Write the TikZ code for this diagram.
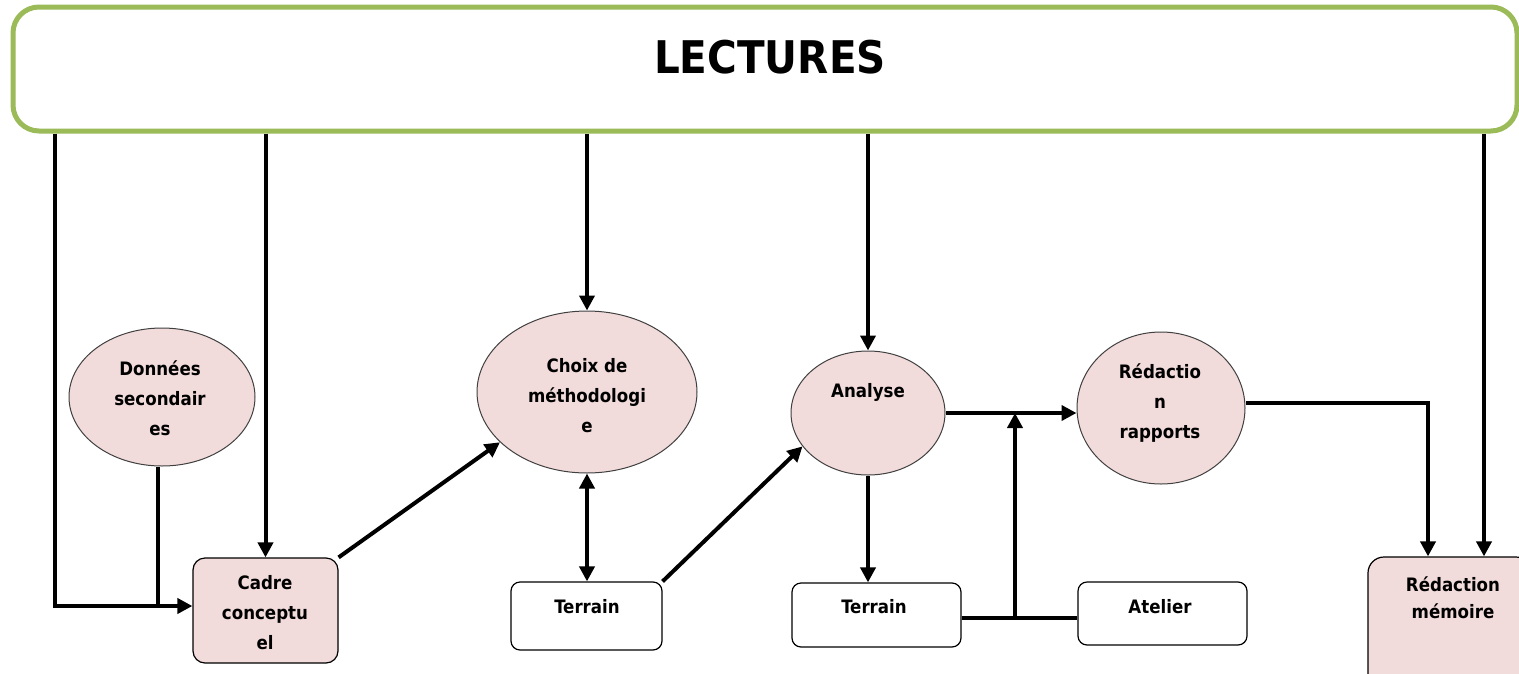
\documentclass[tikz,border=0pt]{standalone}
\usepackage{fontspec}
\usetikzlibrary{shapes.geometric,arrows.meta}
\newfontfamily\tfont{DejaVu Sans Condensed Bold}
\definecolor{lgreen}{HTML}{9BBB59}
\definecolor{lpink}{HTML}{F2DCDB}
\definecolor{edgegray}{HTML}{404040}
\tikzset{
  ell/.style={ellipse,draw=edgegray,line width=1pt,fill=lpink,inner sep=0pt},
  pbox/.style={rectangle,rounded corners=12pt,draw=black,line width=1.2pt,fill=lpink,inner sep=0pt},
  wbox/.style={rectangle,rounded corners=9pt,draw=black,line width=1.2pt,fill=white,inner sep=0pt},
  txt/.style={align=center,inner sep=0pt,font=\tfont\fontsize{18.5}{30}\selectfont},
  conn/.style={line width=4pt,draw=black},
  arr/.style={conn,-{Triangle[length=15pt,width=15pt]}},
  darr/.style={conn,{Triangle[length=15pt,width=15pt]}-{Triangle[length=15pt,width=15pt]}}
}
\begin{document}
\begin{tikzpicture}[x=1pt,y=-1pt]
\useasboundingbox (0,0) rectangle (1519,673);
\clip (0,0) rectangle (1519,673);
\fill[white] (0,0) rectangle (1519,673);
% top box
\node[rectangle,rounded corners=26pt,draw=lgreen,line width=5pt,fill=white,minimum width=1504pt,minimum height=124pt,inner sep=0pt] (L) at (765,69) {};
\node[font=\tfont\fontsize{45}{48}\selectfont,inner sep=0pt] (Lt) at (770,57) {LECTURES};
% shapes
\node[ell,minimum width=186pt,minimum height=138pt] (don) at (162,397) {};
\node[txt] (dont) at (160,398) {Données\\secondair\\es};
\node[pbox,minimum width=145pt,minimum height=105pt] (cad) at (265.5,610.5) {};
\node[txt] (cadt) at (265,613) {Cadre\\conceptu\\el};
\node[ell,minimum width=220pt,minimum height=162pt] (cho) at (587,392) {};
\node[txt] (chot) at (587,396) {Choix de\\méthodologi\\e};
\node[wbox,minimum width=151pt,minimum height=68pt] (ter1) at (586.5,616) {};
\node[txt] (ter1t) at (587,607) {Terrain};
\node[ell,minimum width=154pt,minimum height=124pt] (ana) at (868,413) {};
\node[txt] (anat) at (868,392) {Analyse};
\node[wbox,minimum width=169pt,minimum height=64pt] (ter2) at (876.5,615) {};
\node[txt] (ter2t) at (874,607) {Terrain};
\node[wbox,minimum width=169pt,minimum height=63pt] (ate) at (1162.5,613.5) {};
\node[txt] (atet) at (1160,607) {Atelier};
\node[ell,minimum width=168pt,minimum height=152pt] (rap) at (1161,408) {};
\node[txt] (rapt) at (1160,403) {Rédactio\\n\\rapports};
\node[pbox,rounded corners=16pt,minimum width=164pt,minimum height=140pt] (mem) at (1450,627) {};
\node[txt,font=\tfont\fontsize{18.5}{27}\selectfont] (memt) at (1453,598) {Rédaction\\mémoire};
% helper coordinates
\coordinate (k1) at (55,606);
\coordinate (k2) at (1015,618);
\coordinate (k3) at (1428,403);
\coordinate (k4) at (1484,0);
% connectors
\draw[arr] (k1 |- L.south) -- (k1) -- (k1 -| cad.west);
\draw[conn] (don.south) ++(-4,0) coordinate (dsb) -- (dsb |- k1);
\draw[arr] (cad.north |- L.south) -- (cad.north);
\draw[arr] (cad.north east) -- (cho.210);
\draw[arr] (cho.north |- L.south) -- (cho.north);
\draw[darr] (cho.south) -- (cho.south |- ter1.north);
\draw[arr] (ter1.north east) -- (ana.207);
\draw[arr] (ana.north |- L.south) -- (ana.north);
\draw[arr] (ana.south) -- (ana.south |- ter2.north);
\draw[conn] (ter2.east |- k2) -- (ate.west |- k2);
\draw[arr] (k2) -- (k2 |- ana.east);
\draw[arr] (ana.east) -- (ana.east -| rap.west);
\draw[arr] (rap.east |- k3) -- (k3) -- (k3 |- mem.north);
\draw[arr] (k4 |- L.south) -- (k4 |- mem.north);
\end{tikzpicture}
\end{document}
